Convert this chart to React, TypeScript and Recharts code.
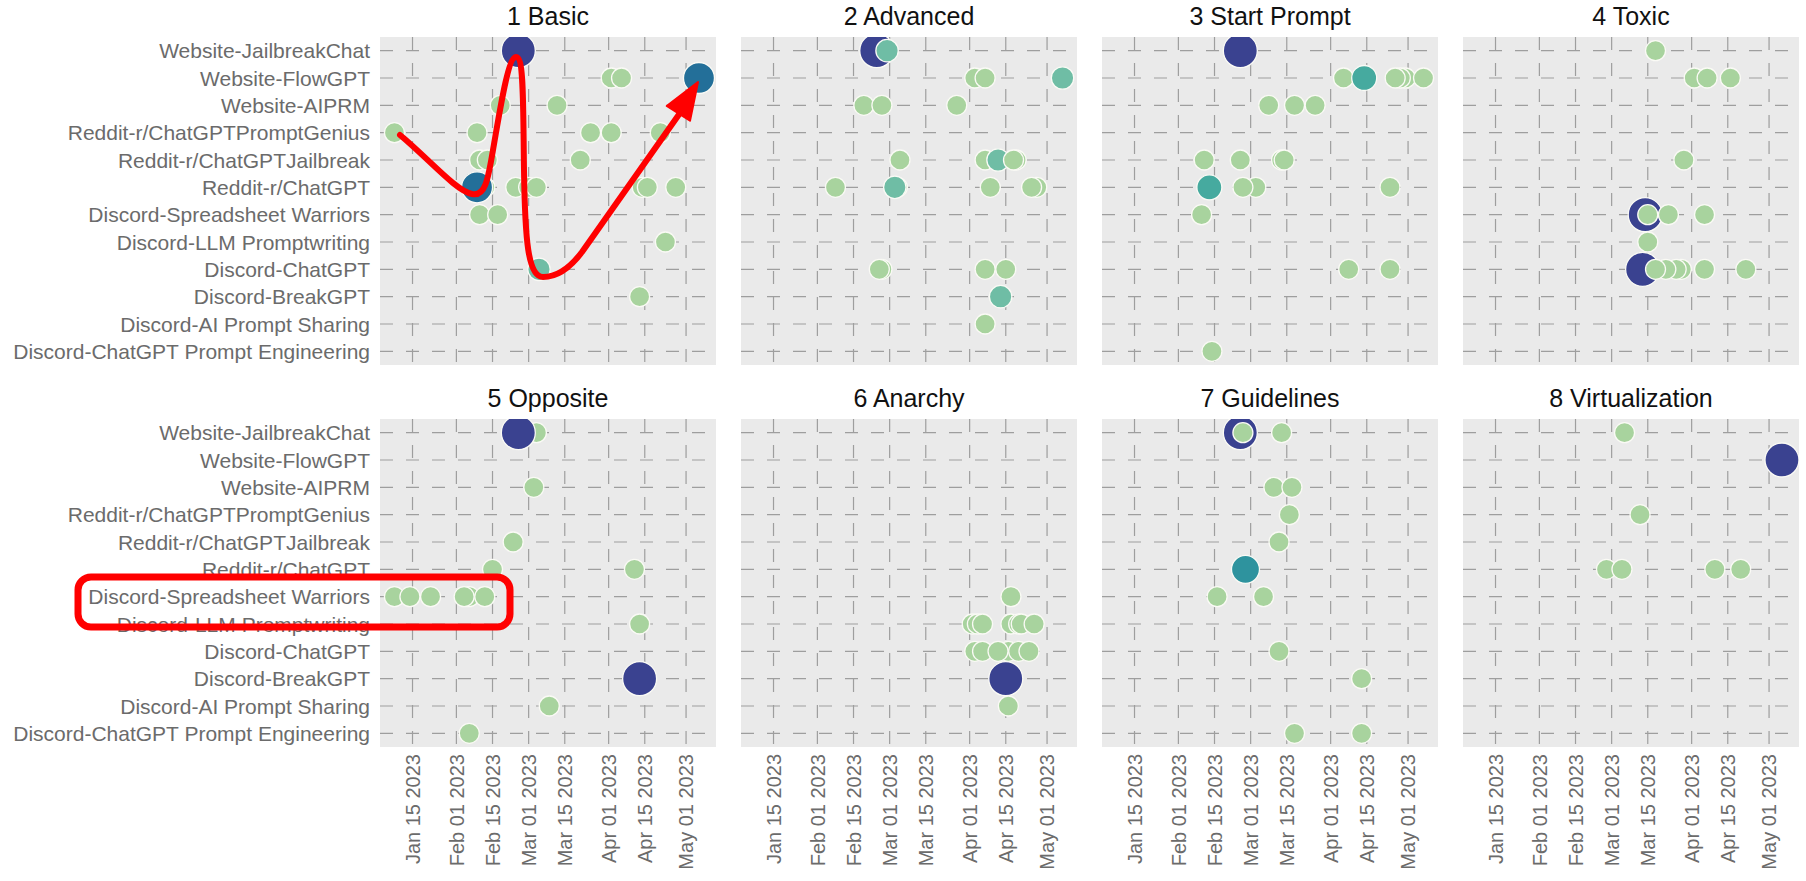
import { ScatterChart, Scatter, XAxis, YAxis, CartesianGrid } from 'recharts';

// sources on the y axis, top to bottom
const sources = [
  'Website-JailbreakChat',
  'Website-FlowGPT',
  'Website-AIPRM',
  'Reddit-r/ChatGPTPromptGenius',
  'Reddit-r/ChatGPTJailbreak',
  'Reddit-r/ChatGPT',
  'Discord-Spreadsheet Warriors',
  'Discord-LLM Promptwriting',
  'Discord-ChatGPT',
  'Discord-BreakGPT',
  'Discord-AI Prompt Sharing',
  'Discord-ChatGPT Prompt Engineering'
];

const tickDates = ['01-15', '02-01', '02-15', '03-01', '03-15', '04-01', '04-15', '05-01'];
const tickLabels = [
  'Jan 15 2023', 'Feb 01 2023', 'Feb 15 2023', 'Mar 01 2023',
  'Mar 15 2023', 'Apr 01 2023', 'Apr 15 2023', 'May 01 2023'
];

const titles = ['1 Basic', '2 Advanced', '3 Start Prompt', '4 Toxic', '5 Opposite', '6 Anarchy', '7 Guidelines', '8 Virtualization'];

// [date (2023, MM-DD), source index, level]  level 1 = few prompts ... 6 = many
type Pt = [string, number, number];

const basic: Pt[] = [
  ['02-25', 0, 6],
  ['04-02', 1, 1], ['04-06', 1, 1], ['05-06', 1, 5],
  ['02-18', 2, 1], ['03-12', 2, 1],
  ['01-08', 3, 1], ['02-09', 3, 1], ['03-25', 3, 1], ['04-02', 3, 1], ['04-21', 3, 1],
  ['02-10', 4, 1], ['02-13', 4, 1], ['03-21', 4, 1],
  ['02-12', 5, 1], ['02-09', 5, 5], ['02-24', 5, 1], ['03-01', 5, 1], ['03-04', 5, 1], ['04-14', 5, 1], ['04-16', 5, 1], ['04-27', 5, 1],
  ['02-10', 6, 1], ['02-17', 6, 1],
  ['04-23', 7, 1],
  ['03-05', 8, 2],
  ['04-13', 9, 1]
];

const advanced: Pt[] = [
  ['02-24', 0, 6], ['02-28', 0, 2],
  ['04-03', 1, 1], ['04-07', 1, 1], ['05-07', 1, 2],
  ['02-19', 2, 1], ['02-26', 2, 1], ['03-27', 2, 1],
  ['03-05', 4, 1], ['04-07', 4, 1], ['04-12', 4, 2], ['04-19', 4, 1], ['04-18', 4, 1],
  ['02-08', 5, 1], ['03-04', 5, 1], ['03-03', 5, 2], ['04-09', 5, 1], ['04-27', 5, 1], ['04-25', 5, 1],
  ['02-26', 8, 1], ['02-25', 8, 1], ['04-07', 8, 1], ['04-15', 8, 1],
  ['04-13', 9, 2],
  ['04-07', 10, 1]
];

const startPrompt: Pt[] = [
  ['02-25', 0, 6],
  ['04-06', 1, 1], ['04-14', 1, 3], ['04-30', 1, 1], ['04-28', 1, 1], ['04-26', 1, 1], ['05-07', 1, 1],
  ['03-08', 2, 1], ['03-18', 2, 1], ['03-26', 2, 1],
  ['02-11', 4, 1], ['02-25', 4, 1], ['03-13', 4, 1], ['03-14', 4, 1],
  ['02-13', 5, 3], ['03-03', 5, 1], ['02-26', 5, 1], ['04-24', 5, 1],
  ['02-10', 6, 1],
  ['04-08', 8, 1], ['04-24', 8, 1],
  ['02-14', 11, 1]
];

const toxic: Pt[] = [
  ['03-18', 0, 1],
  ['04-02', 1, 1], ['04-07', 1, 1], ['04-16', 1, 1],
  ['03-29', 4, 1],
  ['03-14', 6, 6], ['03-15', 6, 1], ['03-23', 6, 1], ['04-06', 6, 1],
  ['03-15', 7, 1],
  ['03-13', 8, 6], ['03-28', 8, 1], ['03-26', 8, 1], ['03-22', 8, 1], ['03-18', 8, 1], ['04-06', 8, 1], ['04-22', 8, 1]
];

const opposite: Pt[] = [
  ['03-04', 0, 1], ['02-25', 0, 6],
  ['03-03', 2, 1],
  ['02-23', 4, 1],
  ['02-15', 5, 1], ['04-11', 5, 1],
  ['01-08', 6, 1], ['01-14', 6, 1], ['01-22', 6, 1], ['02-06', 6, 1], ['02-04', 6, 1], ['02-12', 6, 1],
  ['04-13', 7, 1],
  ['04-13', 9, 6],
  ['03-09', 10, 1],
  ['02-06', 11, 1]
];

const anarchy: Pt[] = [
  ['04-17', 6, 1],
  ['04-02', 7, 1], ['04-04', 7, 1], ['04-06', 7, 1], ['04-17', 7, 1], ['04-20', 7, 1], ['04-21', 7, 1], ['04-26', 7, 1],
  ['04-16', 8, 1], ['04-03', 8, 1], ['04-06', 8, 1], ['04-12', 8, 1], ['04-20', 8, 1], ['04-24', 8, 1],
  ['04-15', 9, 6],
  ['04-16', 10, 1]
];

const guidelines: Pt[] = [
  ['02-25', 0, 6], ['02-26', 0, 1], ['03-13', 0, 1],
  ['03-10', 2, 1], ['03-17', 2, 1],
  ['03-16', 3, 1],
  ['03-12', 4, 1],
  ['02-27', 5, 4],
  ['02-16', 6, 1], ['03-06', 6, 1],
  ['03-12', 8, 1],
  ['04-13', 9, 1],
  ['03-18', 11, 1], ['04-13', 11, 1]
];

const virtualization: Pt[] = [
  ['03-06', 0, 1],
  ['05-06', 1, 6],
  ['03-12', 3, 1],
  ['02-27', 5, 1], ['03-05', 5, 1], ['04-10', 5, 1], ['04-20', 5, 1]
];

const panels = [basic, advanced, startPrompt, toxic, opposite, anarchy, guidelines, virtualization];

const levelFill = ['#A8D39E', '#6FBDA5', '#46AA9F', '#2E939E', '#236F99', '#3A4290'];
const levelR = [10, 11.2, 12.5, 14, 15.5, 17];

const monthStart = [0, 31, 59, 90, 120, 151];
const dayOfYear = (md: string) => {
  const [m, d] = md.split('-').map(Number);
  return monthStart[m - 1] + d;
};

const FONT = '"Liberation Sans", Arial, sans-serif';
const PLOT_W = 336;
const PLOT_H = 328;
const LABEL_W = 380;
const TICK_H = 134;
const X_DOMAIN = [2.4, 132.6];
const rowTicks = sources.map((_, i) => i);
const xTicks = tickDates.map(dayOfYear);

const Bubble = (props: any) => {
  const { cx, cy, payload } = props;
  return (
    <circle
      cx={cx}
      cy={cy}
      r={levelR[payload.lvl - 1]}
      fill={levelFill[payload.lvl - 1]}
      stroke="#fafaf5"
      strokeWidth={1.3}
    />
  );
};

const NoTick = () => <g />;

const YTick = (props: any) => {
  const { y, payload } = props;
  return (
    <text x={LABEL_W - 10} y={y} dy="0.36em" textAnchor="end" fill="#6b6b6b" fontSize={21} fontFamily={FONT}>
      {sources[payload.value]}
    </text>
  );
};

const XTick = (props: any) => {
  const { x, payload } = props;
  const y = PLOT_H + 7;
  const label = tickLabels[xTicks.indexOf(payload.value)];
  return (
    <text
      x={x}
      y={y}
      dy="0.36em"
      textAnchor="end"
      transform={`rotate(-90, ${x}, ${y})`}
      fill="#6b6b6b"
      fontSize={20}
      fontFamily={FONT}
    >
      {label}
    </text>
  );
};

const Panel = ({ idx }: { idx: number }) => {
  const col = idx % 4;
  const row = Math.floor(idx / 4);
  const left = 380 + col * 361;
  const top = row === 0 ? 37 : 419;
  const yw = col === 0 ? LABEL_W : 0;
  const xh = row === 1 ? TICK_H : 1;
  const data = panels[idx].map(([d, s, lvl]) => ({ x: dayOfYear(d), y: s, lvl }));
  return (
    <>
      <div
        style={{
          position: 'absolute',
          left,
          top: top - 37,
          width: PLOT_W,
          textAlign: 'center',
          fontFamily: FONT,
          fontSize: 25,
          lineHeight: '32px',
          color: '#111'
        }}
      >
        {titles[idx]}
      </div>
      <div style={{ position: 'absolute', left: left - yw, top }}>
        <ScatterChart width={PLOT_W + yw} height={PLOT_H + xh} margin={{ top: 0, right: 0, bottom: 0, left: 0 }}>
          <CartesianGrid
            fill="#EAEAEA"
            stroke="#9e9e9e"
            strokeWidth={1.2}
            strokeDasharray="13 13"
            syncWithTicks
          />
          <XAxis
            type="number"
            dataKey="x"
            domain={X_DOMAIN}
            allowDataOverflow
            ticks={xTicks}
            interval={0}
            height={xh}
            axisLine={false}
            tickLine={false}
            tick={row === 1 ? <XTick /> : <NoTick />}
          />
          <YAxis
            type="number"
            dataKey="y"
            domain={[-0.5, 11.5]}
            allowDataOverflow
            reversed
            ticks={rowTicks}
            interval={0}
            width={yw}
            axisLine={false}
            tickLine={false}
            tick={col === 0 ? <YTick /> : <NoTick />}
          />
          <Scatter data={data} isAnimationActive={false} shape={Bubble} />
        </ScatterChart>
      </div>
    </>
  );
};

const App = () => {
  return (
    <div style={{ position: 'absolute', left: 0, top: 0, width: 1806, height: 881, background: '#fff', overflow: 'hidden' }}>
      {panels.map((_, i) => (
        <Panel key={i} idx={i} />
      ))}
      {/* red annotations drawn over the figure */}
      <svg width={1806} height={881} style={{ position: 'absolute', left: 0, top: 0, pointerEvents: 'none' }}>
        <path
          d="M400,135 C430,160 455,190 472,194 C485,197 488,180 493,150 C500,110 508,57 516,57 C524,57 523,100 524,170 C525,240 528,277 543,277 C558,277 570,268 582,252 L680,113"
          fill="none"
          stroke="#FF0000"
          strokeWidth={6}
          strokeLinecap="round"
          strokeLinejoin="round"
        />
        <polygon points="698,82 666.7,106 690,120.7" fill="#FF0000" stroke="#FF0000" strokeWidth={2} strokeLinejoin="round" />
        <rect x={78} y={577} width={432} height={50} rx={13} fill="none" stroke="#FF0000" strokeWidth={7} />
      </svg>
    </div>
  );
};

export default App;
